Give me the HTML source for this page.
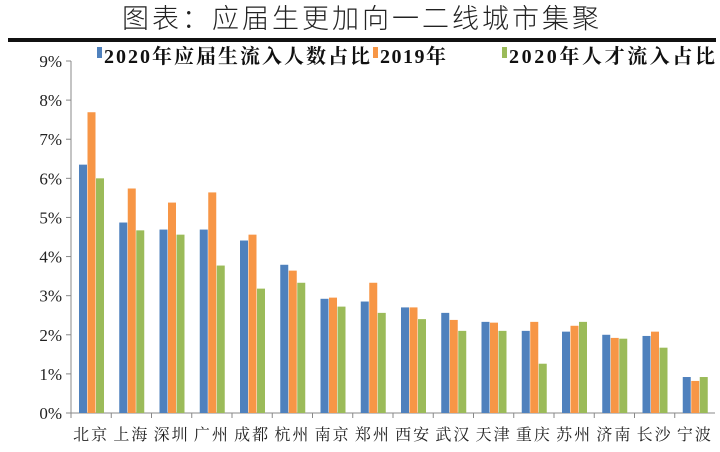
<!DOCTYPE html>
<html><head><meta charset="utf-8"><style>
body{margin:0;background:#fff;width:720px;height:447px;overflow:hidden;font-family:"Liberation Serif","Noto Serif CJK SC",serif}
</style></head><body>
<svg width="720" height="447">
<text x="362" y="28" text-anchor="middle" font-size="27" fill="#222" font-family="'Noto Sans CJK SC',sans-serif" font-weight="300" letter-spacing="3">图表：应届生更加向一二线城市集聚</text>
<rect x="8" y="38" width="708" height="4" fill="#111"/>
<g id="legend" font-family="'Liberation Serif','Noto Serif CJK SC',serif">
<rect x="97" y="47" width="5" height="11" fill="#4f81bd"/>
<text x="104" y="63" font-size="20" font-weight="bold" fill="#111" textLength="266">2020年应届生流入人数占比</text>
<rect x="373" y="47" width="5" height="11" fill="#f79646"/>
<text x="380" y="63" font-size="20" font-weight="bold" fill="#111" textLength="66">2019年</text>
<rect x="502" y="47" width="5" height="11" fill="#9bbb59"/>
<text x="509" y="63" font-size="20" font-weight="bold" fill="#111" textLength="206">2020年人才流入占比</text>
</g>
<g id="plot"></g>
</svg>
<script>
const categories=["北京","上海","深圳","广州","成都","杭州","南京","郑州","西安","武汉","天津","重庆","苏州","济南","长沙","宁波"];
const grad2020=[6.35,4.87,4.69,4.69,4.41,3.79,2.92,2.85,2.7,2.56,2.33,2.1,2.08,2.0,1.97,0.92];
const y2019=[7.69,5.74,5.38,5.64,4.56,3.64,2.95,3.33,2.7,2.38,2.31,2.33,2.23,1.92,2.08,0.82];
const talent2020=[6.0,4.67,4.56,3.77,3.18,3.33,2.72,2.56,2.4,2.1,2.1,1.26,2.33,1.9,1.67,0.92];
const yTicks=[0,1,2,3,4,5,6,7,8,9];
const NS="http://www.w3.org/2000/svg";
const g=document.getElementById('plot');
const x0=71,x1=715,y0=413,yTop=61;
const yS=v=>y0-(v/9)*(y0-yTop);
const cw=(x1-x0)/categories.length;
const xS=i=>x0+i*cw;
function mk(t,a){const e=document.createElementNS(NS,t);for(const k in a)e.setAttribute(k,a[k]);g.appendChild(e);return e;}
let ax=mk('line',{x1:x0,y1:yTop,x2:x0,y2:y0,stroke:'#888'});


let bx=mk('line',{x1:x0,y1:y0,x2:x1,y2:y0,stroke:'#888'});


yTicks.forEach(v=>{
 let tk=mk('line',{x1:x0-5,y1:yS(v),x2:x0,y2:yS(v),stroke:'#888'});
 
 
 let t=mk('text',{x:x0-9,y:yS(v)+6,'text-anchor':'end','font-size':'17',fill:'#222'});
 t.textContent=v+'%';
 
 
});
const series=[[grad2020,'#4f81bd','bar-2020-graduates'],[y2019,'#f79646','bar-2019'],[talent2020,'#9bbb59','bar-2020-talent']];
categories.forEach((c,i)=>{
 series.forEach((s,j)=>{
  const v=s[0][i];
  let r=mk('rect',{x:xS(i)+8+j*8.5,y:yS(v),width:8,height:y0-yS(v),fill:s[1]});
  
  
 });
 let tk=mk('line',{x1:xS(i),y1:y0,x2:xS(i),y2:y0+5,stroke:'#888'});
 
 
 let t=mk('text',{x:xS(i)+cw/2,y:y0+27,'text-anchor':'middle','font-size':'16',fill:'#222','letter-spacing':'2'});
 t.textContent=c;
 
 
});
</script>
</body></html>
